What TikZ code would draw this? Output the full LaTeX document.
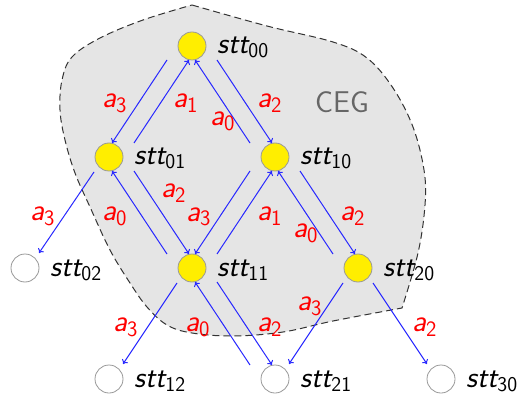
\documentclass[tikz,border=0pt]{standalone}
\usepackage{fontspec}
\usetikzlibrary{arrows.meta}
\definecolor{yel}{RGB}{255,238,0}
\definecolor{blobfill}{RGB}{229,229,229}
\definecolor{edgeblue}{RGB}{40,40,255}
\newcommand\sttl[1]{{\fontsize{30}{30}\selectfont\sffamily\itshape stt}{\fontsize{21}{21}\selectfont\sffamily\raisebox{-4pt}{#1}}}
\newcommand\albl[1]{{\fontsize{31}{31}\selectfont\sffamily\itshape a}{\fontsize{22}{22}\selectfont\sffamily\raisebox{-5pt}{#1}}}
\begin{document}
\begin{tikzpicture}[x=1pt,y=-1pt,
  st/.style={circle, minimum size=28pt, inner sep=0pt, draw=gray!80, line width=0.8pt},
  on/.style={st, fill=yel},
  off/.style={st, fill=white},
  ed/.style={draw=edgeblue, line width=1pt, -{To[length=4pt,width=7pt]}},
  lab/.style={text=red, anchor=base west, inner sep=0pt},
  nm/.style={anchor=base west, inner sep=0pt}]
\useasboundingbox (0,0) rectangle (521,395);
% CEG region
\draw[fill=blobfill, draw=black!80, line width=1pt, dash pattern=on 7pt off 4pt]
  plot[smooth, tension=0.6] coordinates {(192,5) (267,26) (333,42) (367,58) (393,88) (413,127) (424,170) (425,205) (418,253) (402,308)}
  -- plot[smooth, tension=0.6] coordinates {(402,308) (333,321) (283,332) (233,336) (192,333) (167,325) (147,307) (130,283) (110,250) (90,207) (75,173) (65,140) (60,110) (62,80) (72,57) (100,38) (143,20) (192,5)} -- cycle;
\node[text=black!60, anchor=base west, inner sep=0pt, font=\fontsize{30}{30}\selectfont\sffamily] (ceg) at (315,113) {CEG};
% states
\node[on]  (n00) at (192,46) {};
\node[on]  (n01) at (109,157) {};
\node[on]  (n10) at (275,157) {};
\node[off] (n02) at (25,268) {};
\node[on]  (n11) at (192,268) {};
\node[on]  (n20) at (358,268) {};
\node[off] (n12) at (109,379) {};
\node[off] (n21) at (275,379) {};
\node[off] (n30) at (441,379) {};
\foreach \n/\s in {n00/00,n01/01,n10/10,n02/02,n11/11,n20/20,n12/12,n21/21,n30/30}
  \node[nm] (t\s) at ([shift={(25,8)}]\n.center) {\sttl{\s}};
% edges
\draw[ed] ([shift={(-25,14)}]n00.center) -- ([shift={(3,-14)}]n01.center);
\draw[ed] ([shift={(25,-14)}]n01.center) -- ([shift={(-3,14)}]n00.center);
\draw[ed] ([shift={(25,14)}]n00.center) -- ([shift={(-3,-14)}]n10.center);
\draw[ed] ([shift={(-25,-14)}]n10.center) -- ([shift={(3,14)}]n00.center);
\draw[ed] ([shift={(-15,15)}]n01.center) -- ([shift={(14,-15)}]n02.center);
\draw[ed] ([shift={(25,14)}]n01.center) -- ([shift={(-3,-14)}]n11.center);
\draw[ed] ([shift={(-25,-14)}]n11.center) -- ([shift={(3,14)}]n01.center);
\draw[ed] ([shift={(-25,14)}]n10.center) -- ([shift={(3,-14)}]n11.center);
\draw[ed] ([shift={(25,-14)}]n11.center) -- ([shift={(-3,14)}]n10.center);
\draw[ed] ([shift={(25,14)}]n10.center) -- ([shift={(-3,-14)}]n20.center);
\draw[ed] ([shift={(-25,-14)}]n20.center) -- ([shift={(3,14)}]n10.center);
\draw[ed] ([shift={(-15,15)}]n11.center) -- ([shift={(14,-15)}]n12.center);
\draw[ed] ([shift={(25,14)}]n11.center) -- ([shift={(-3,-14)}]n21.center);
\draw[ed] ([shift={(-25,-14)}]n21.center) -- ([shift={(3,14)}]n11.center);
\draw[ed] ([shift={(-15,15)}]n20.center) -- ([shift={(14,-15)}]n21.center);
\draw[ed] ([shift={(15,15)}]n20.center) -- ([shift={(-14,-15)}]n30.center);
% labels
\node[lab] (l1)  at (102,108) {\albl{3}};
\node[lab] (l2)  at (173,108) {\albl{1}};
\node[lab] (l3)  at (257,108) {\albl{2}};
\node[lab] (l4)  at (210,126) {\albl{0}};
\node[lab] (l5)  at (30,220)  {\albl{3}};
\node[lab] (l6)  at (102,220) {\albl{0}};
\node[lab] (l7)  at (161,197) {\albl{2}};
\node[lab] (l8)  at (186,221) {\albl{3}};
\node[lab] (l9)  at (257,220) {\albl{1}};
\node[lab] (l10) at (340,220) {\albl{2}};
\node[lab] (l11) at (293,237) {\albl{0}};
\node[lab] (l12) at (113,331) {\albl{3}};
\node[lab] (l13) at (185,331) {\albl{0}};
\node[lab] (l14) at (257,331) {\albl{2}};
\node[lab] (l15) at (297,310) {\albl{3}};
\node[lab] (l16) at (412,331) {\albl{2}};
\end{tikzpicture}
\end{document}
